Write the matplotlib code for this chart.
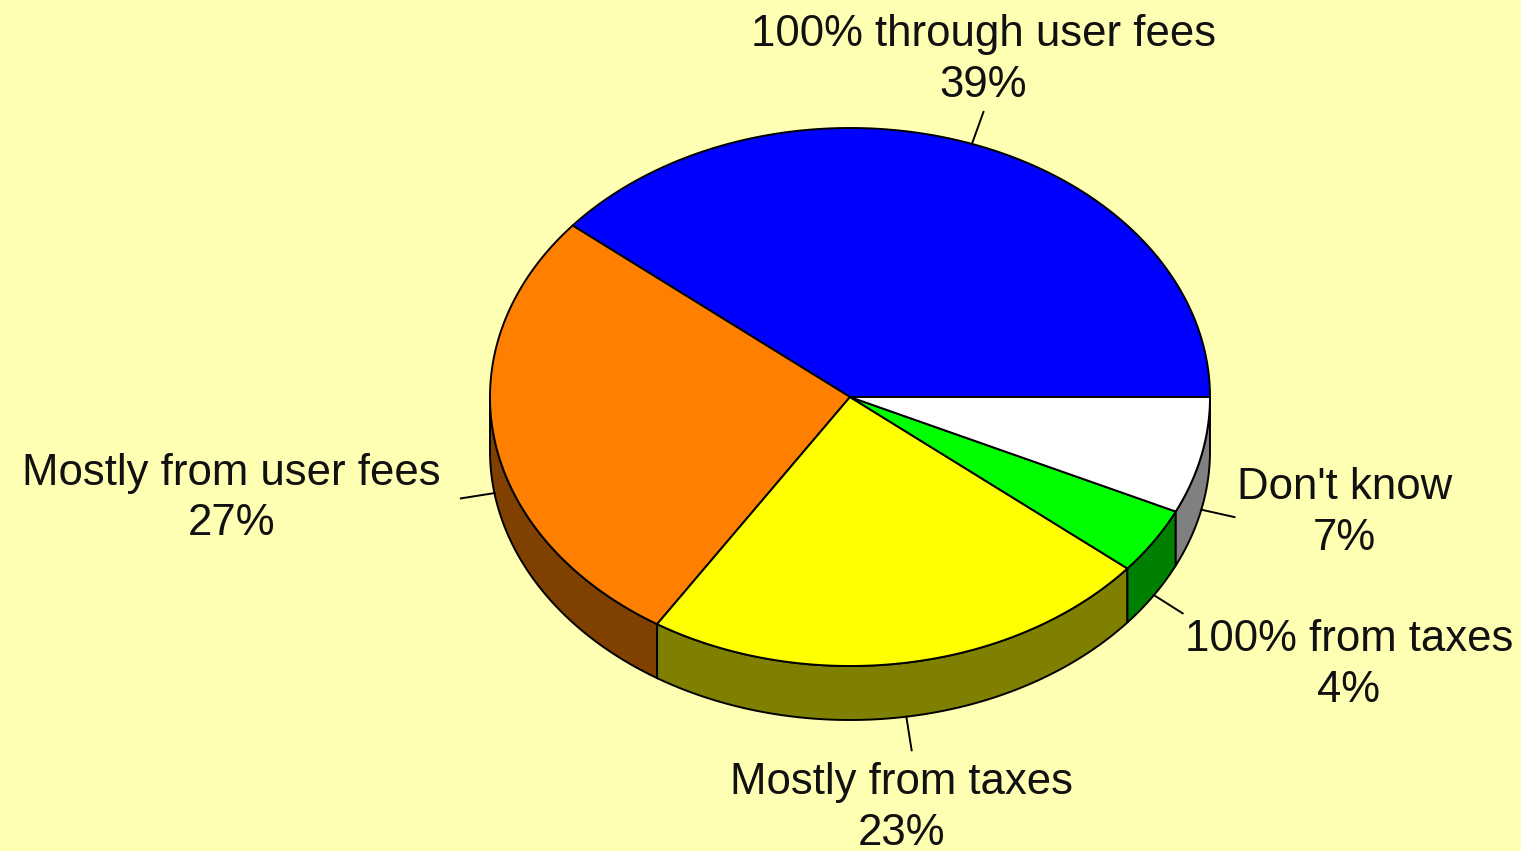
import numpy as np
import matplotlib.pyplot as plt
from matplotlib.patches import Polygon

# Survey answers, counterclockwise from 3 o'clock
labels = ["100% through user fees", "Mostly from user fees", "Mostly from taxes",
          "100% from taxes", "Don't know"]
shares = [39, 27, 23, 4, 7]

top_colors = ["#0000ff", "#ff8000", "#ffff00", "#00ff00", "#ffffff"]
side_colors = ["#000080", "#804000", "#808000", "#008000", "#808080"]

# pie geometry in pixel units
cx, cy = 850, 397
rx, ry = 360, 269
depth = 54
tick_len = 34

plt.rcParams['font.family'] = ['Liberation Sans', 'DejaVu Sans']

fig = plt.figure(figsize=(15.21, 8.51), dpi=100)
fig.patch.set_facecolor("#ffffb3")
ax = fig.add_axes([0, 0, 1, 1])
ax.set_xlim(0, 1521)
ax.set_ylim(851, 0)
ax.axis("off")


def arc(a1, a2, dy=0, n=200):
    t = np.radians(np.linspace(a1, a2, n))
    return np.column_stack([cx + rx * np.cos(t), cy - ry * np.sin(t) + dy])


bounds = np.concatenate([[0], np.cumsum(shares)]) / sum(shares) * 360

# side walls, only the front half (180..360) is visible
for i in range(len(shares)):
    a1, a2 = max(bounds[i], 180), min(bounds[i + 1], 360)
    if a2 <= a1:
        continue
    pts = np.vstack([arc(a1, a2), arc(a1, a2, depth)[::-1]])
    ax.add_patch(Polygon(pts, closed=True, facecolor=side_colors[i],
                         edgecolor="black", lw=1.4, zorder=1))

# top faces
for i in range(len(shares)):
    pts = np.vstack([[cx, cy], arc(bounds[i], bounds[i + 1])])
    ax.add_patch(Polygon(pts, closed=True, facecolor=top_colors[i],
                         edgecolor="black", lw=1.4, zorder=2))

# label alignment per slice
aligns = [("center", "bottom", 0, -6), ("right", "center", -20, 0),
          ("center", "top", -10, 12), ("left", "top", 2, 6),
          ("left", "center", 2, -4)]

for i, (lab, v) in enumerate(zip(labels, shares)):
    mid = (bounds[i] + bounds[i + 1]) / 2
    t = np.radians(mid)
    dy = depth if np.sin(t) < 0 else 0
    x0 = cx + rx * np.cos(t)
    y0 = cy - ry * np.sin(t) + dy
    x1 = x0 + tick_len * np.cos(t)
    y1 = y0 - tick_len * np.sin(t)
    ax.plot([x0, x1], [y0, y1], color="black", lw=1.4, zorder=3)
    ha, va, ox, oy = aligns[i]
    ax.text(x1 + ox, y1 + oy, f"{lab}\n{v}%", ha=ha, va=va, fontsize=31.5,
            multialignment="center", linespacing=1.3, color="#111111")

fig.savefig("out.png", dpi=100, facecolor=fig.get_facecolor())
